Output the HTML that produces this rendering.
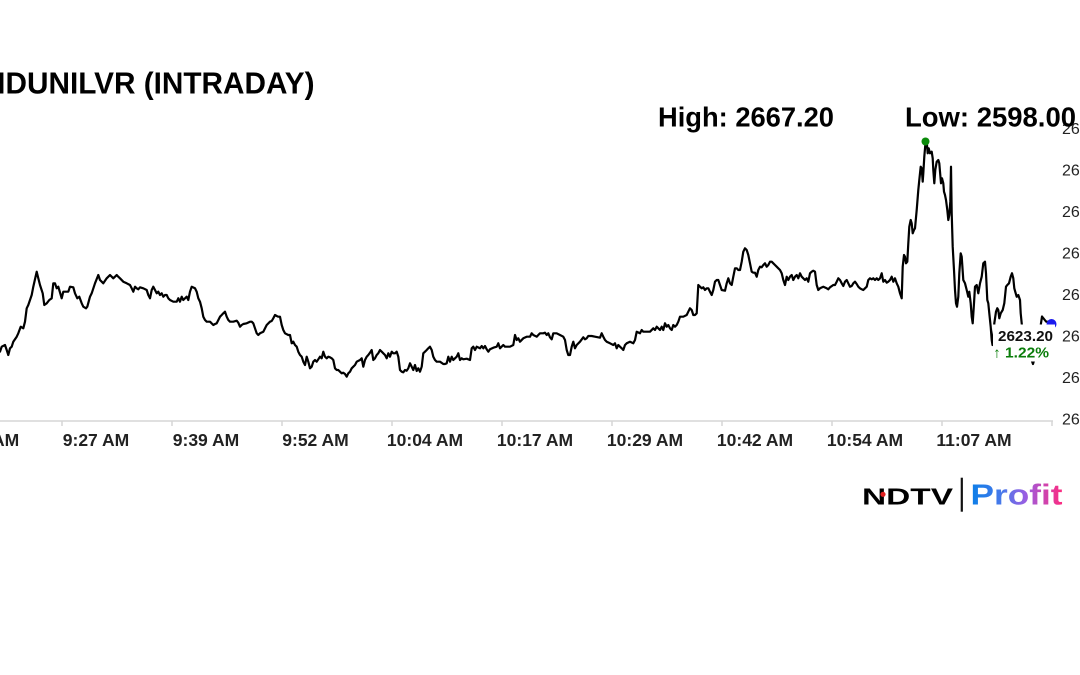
<!DOCTYPE html>
<html><head><meta charset="utf-8"><style>
html,body{margin:0;padding:0;background:#fff;}
svg{display:block;}
</style></head><body>
<svg width="1080" height="675" viewBox="0 0 1080 675" xmlns="http://www.w3.org/2000/svg">
<rect width="1080" height="675" fill="#fff"/>
<!-- Title -->
<text x="5.5" y="93.5" font-family="Liberation Sans, Arial, sans-serif" font-weight="bold" font-size="31" fill="#000" text-anchor="end">HIN</text>
<text x="5.5" y="93.5" font-family="Liberation Sans, Arial, sans-serif" font-weight="bold" font-size="31" fill="#000" textLength="309" lengthAdjust="spacingAndGlyphs">DUNILVR (INTRADAY)</text>
<!-- High / Low -->
<text x="658" y="126.5" font-family="Liberation Sans, Arial, sans-serif" font-weight="bold" font-size="28" fill="#000" textLength="176" lengthAdjust="spacingAndGlyphs">High: 2667.20</text>
<!-- y labels -->
<g font-family="Liberation Sans, Arial, sans-serif" font-size="16" fill="#222">
<text x="1062" y="134.2">2670</text>
<text x="1062" y="175.7">2660</text>
<text x="1062" y="217.2">2650</text>
<text x="1062" y="258.7">2640</text>
<text x="1062" y="300.2">2630</text>
<text x="1062" y="341.7">2620</text>
<text x="1062" y="383.2">2610</text>
<text x="1062" y="424.7">2600</text>
</g>
<text x="905" y="126.5" font-family="Liberation Sans, Arial, sans-serif" font-weight="bold" font-size="28" fill="#000" textLength="171" lengthAdjust="spacingAndGlyphs">Low: 2598.00</text>
<!-- axis -->
<line x1="0" y1="421" x2="1053" y2="421" stroke="#d6d6d6" stroke-width="1.5"/>
<g stroke="#d6d6d6" stroke-width="1.5">
<line x1="62" y1="421" x2="62" y2="426"/><line x1="172" y1="421" x2="172" y2="426"/><line x1="282" y1="421" x2="282" y2="426"/><line x1="392" y1="421" x2="392" y2="426"/><line x1="502" y1="421" x2="502" y2="426"/><line x1="612" y1="421" x2="612" y2="426"/><line x1="722" y1="421" x2="722" y2="426"/><line x1="832" y1="421" x2="832" y2="426"/><line x1="942" y1="421" x2="942" y2="426"/><line x1="1052" y1="421" x2="1052" y2="426"/>
</g>
<g font-family="Liberation Sans, Arial, sans-serif" font-weight="bold" font-size="17.5" fill="#222" text-anchor="middle">
<text x="-14" y="446">9:14 AM</text>
<text x="96" y="446">9:27 AM</text>
<text x="206" y="446">9:39 AM</text>
<text x="315.5" y="446">9:52 AM</text>
<text x="425" y="446">10:04 AM</text>
<text x="535" y="446">10:17 AM</text>
<text x="645" y="446">10:29 AM</text>
<text x="755" y="446">10:42 AM</text>
<text x="865" y="446">10:54 AM</text>
<text x="974" y="446">11:07 AM</text>
</g>
<!-- series -->
<polyline fill="none" stroke="#000" stroke-width="2.2" stroke-linejoin="round" points="-2,352 0,351.7 1.7,346.7 5,345 6.7,350 8.3,355 10,348.3 11.7,346.7 13.3,341.7 16.7,336.7 18.3,333.3 20.7,326.7 23.3,328.3 25,321.7 26.7,308.3 28.3,305 30,300 31.7,295 33.3,286.7 36.7,271.7 38.3,278.3 40,285 42.7,293.3 44.3,305 46.7,303.3 49.3,300 51.7,298.3 53.3,283.3 55,283.3 56.7,288.3 58.3,286.7 61.7,298.3 63.3,291.7 65,291.7 68.3,291.7 70,286.7 73.3,287.3 75,293.3 77.3,298.3 79.3,296.7 81.7,303.3 83.3,306.7 86,308.3 87.3,306.7 90,296.7 91.7,293.3 95,283.3 98.3,275 100,280 101.7,281.7 103.3,283.3 106.7,278.3 110,275 113.3,278.3 115,276.7 116.7,275 118.3,276.7 120,278.3 123.3,281.7 126.7,283.3 130,285 131.7,288.3 133.3,291.7 135,286.7 136.7,288.3 138.3,289.3 140,287.3 143.3,288.3 146.7,290 148.3,295 150,298.3 151.7,290 153.3,286.7 155,290 156.7,293.3 158.3,291.7 160,295 161.7,293.3 163.3,296.7 165,295 166.7,295 168.3,298.3 170,300 173.3,301.7 176.7,301.7 178.3,298.3 180,301.7 181.7,296.7 183.3,300 186.7,296.7 188.3,300 190,291.7 191.7,286.7 195,288.3 196.7,291.7 198.3,298.3 200,301.7 201.7,308.3 203.3,316.7 205,320 206.7,321.7 210,321.7 213.3,325 215,324 216.7,323.3 220,316.7 221.7,315 223.3,313.3 225,311.7 226.7,316.7 228.3,320 230,321.7 233.3,321.7 236.7,320.7 238.3,322.7 240,326.7 241.7,325 243.3,324 246.7,323.3 250,321.7 251.7,321.7 253.3,323.3 255,328.3 256.7,333.3 258.3,335 260,333.3 263.3,331.7 266.7,325 270,321.7 271.7,321 273.3,318.3 275,315 276.7,316 278.3,316.7 280,316.7 281.7,325 283.3,330 285,333.3 288.3,335 290,335 291.7,343.3 293.3,341.7 295,345 296.7,346.7 298.3,351.7 300,355 301.7,356.7 303.3,361.7 305,365 306.7,356.7 308.3,361.7 310,368.3 311.7,366.7 313.3,361.7 315,360 316.7,361.7 318.3,359.3 320,356.7 321.7,358.3 323.3,351.7 325,356.7 326.7,358.3 328.3,356.7 330,357.3 331.7,358.3 333.3,360 335,368.3 336.7,370 338.3,370 340,371.7 341.7,373.3 343.3,372.7 345,374 346.7,376.7 348.3,373.3 350,371.7 351.7,368.3 353.3,366.7 355,365 356.7,361.7 360,360 361.7,358.3 363.3,366.7 365,360 366.7,356.7 368.3,355 370,352.7 371.7,350 373.3,360 375,358.3 376.7,355 378.3,353.3 380,350 381.7,351.7 383.3,353.3 385,355 386.7,358.3 388.3,353.3 390,356.7 391.7,351.7 393.3,353.3 395,353.3 396.7,351.7 398.3,356.7 400,370 401.7,371.7 403.3,372.3 405,370 406.7,370.7 408.3,368.3 410,363.3 411.7,366.7 413.3,370 415,365 416.7,371 418.3,368.3 420,371.7 421.7,366.7 423.3,353.3 425,351.7 426.7,350 428.3,348.3 430,346.7 431.7,350 433.3,356.7 435,360 436.7,361.7 440,361.7 443.3,364 445,364 446.7,363.3 448.3,356.7 450,361.7 451.7,356.7 453.3,360 455,358.3 456.7,356.7 458.3,353.3 460,360 461.7,358.3 463.3,359.3 466.7,358.7 470,360 471.7,348.3 473.3,346.7 475,350 476.7,346.7 480,348.3 481.7,346 483.3,348.3 485,346 486.7,349.3 488.3,351.7 490,349.3 493.3,347.7 496.7,346.7 498.3,343.3 500,348.3 503.3,345 505,346.7 506.7,346.7 510,346.7 513.3,345 515,335 516.7,340 518.3,338.3 520,341.7 523.3,338.3 526.7,336.7 530,336.7 531.7,333.3 533.3,335 536.7,336.7 538.3,335 540,333.3 543.3,333.3 545,332.7 546.7,335 548.3,333.3 550,337.3 551.7,339.3 553.3,333.3 556.7,333.3 560,335 563.3,336.7 565,340 566.7,350 568.3,355 570,355 571.7,346.7 573.3,341.7 575,348.3 576.7,345 580,341.7 583.3,337.3 585,339.3 586.7,338.3 588.3,336 591.7,336 595,336.7 600,337.7 601.7,333.3 603.3,336.7 605,340 606.7,341.7 610,343.3 613.3,345 615,343.3 616.7,348.3 618.3,345 620,346.7 621.7,348.3 623.3,350 625,345 626.7,343.3 630,341.7 633.3,343.3 635,340 636.7,331.7 640,333.3 641.7,330 643.3,331.7 646.7,331.7 650,331.7 653.3,328.3 655,330 656.7,326.7 658.3,328.3 660,330 661.7,326.7 663.3,330 665,323.3 666.7,326.7 668.3,325 670,328.3 671.7,330 673.3,325 675,326.7 676.7,325 678.3,321.7 680,316.7 683.3,316.7 686.7,315 688.3,311.7 690,308.3 691.7,310 693.3,315 695,315 696.7,313.3 698.3,285 700,286.7 701.7,288.3 703.3,287.3 705,290 706.7,288.3 708.3,288.3 710,291.7 711.7,295 713.3,290 715,281.7 716.7,280 718.3,280 720,285 721.7,290 725,290.7 726.7,283.3 728.3,278.3 730,283.3 731.7,285 733.3,276.7 735,268.3 736.7,268.3 738.3,270 740,270 741.7,261.7 743.3,251.7 745,248.3 746.7,250 748.3,255 750,263.3 751.7,271.7 753.3,272.7 755,272.7 756.7,276.7 758.3,270 760,266.7 761.7,267.3 763.3,265 765,263.3 766.7,266.7 768.3,265 770,261.7 771.7,261.7 773.3,263.3 775,265 776.7,266.7 778.3,268.3 780,270 781.7,273.3 783.3,280 785,285 786.7,276.7 788.3,280 790,276.7 791.7,275 793.3,280 795,276.7 796.7,275 798.3,278.3 800,273.3 801.7,276.7 803.3,278.3 805,280 806.7,278.3 808.3,281.7 810,273.3 811.7,271.7 813.3,270.7 815,271.7 816.7,285 818.3,290 820,288.3 823.3,286.7 826.7,288.3 828.3,289.3 830,287.3 833.3,285 835,285 836.7,281.7 838.3,278.3 840,280 841.7,283.3 843.3,286 845,281.7 846.7,280 848.3,283.3 850,286.7 851.7,286 853.3,283.3 855,281.7 856.7,284 858.3,286.7 860,288.3 861.7,289.3 863.3,290 865,288.3 866.7,286.7 868.3,280 870,278.3 871.7,279.3 873.3,278.3 875,280 876.7,278.3 878.3,280 880,278.3 881.7,273.3 883.3,281.7 885,280 886.7,282.7 888.3,281.7 890,280 891.7,276.7 893.3,281.7 895,278.3 896.7,283.3 898.3,286.7 900,293.3 901.7,298.3 902.7,266.7 904,255 905,256.7 906,263.3 907.3,261.7 908.3,243.3 909.3,226.7 910.7,220 911.7,223.3 912.7,233.3 914,230 915,228.3 916.7,210 918.3,190 919.3,180 920.7,166.7 921.7,168.3 922.7,181.7 923.3,173.3 924.3,156.7 925.3,145 926.7,141.7 927.7,153.3 928.7,148.3 930,153.3 931.7,151.7 932.7,158.3 933.3,170 934.3,183.3 935.3,170 936.7,161.7 938.3,160 939.3,163.3 940,171.7 941,183.3 942,178.3 943.3,183.3 944,191.7 945,195 946,200 947.3,210 948.3,220 949.3,215 950.3,201.7 951,166.7 951.7,213.3 952.7,246.7 954,270 955,290 956,303.3 957,306.7 958.3,296.7 959.3,273.3 960.7,253.3 961.7,256.7 963.3,280 965,283.3 966.7,290 968.3,296.7 969.3,291.7 970.7,303.3 971.7,316.7 972.7,323.3 974,303.3 975,286.7 976.7,285 978.3,293.3 980,283.3 981.7,276.7 983.3,263.3 985,261.7 986,273.3 987.3,300 988.3,303.3 989.3,313.3 990.7,326.7 991.7,340 992.5,345 994,330 994.3,323.3 996,311.7 997.3,308.3 998.3,310 999.3,318.3 1000.7,313.3 1002.7,310 1004.3,303.3 1006,286.7 1007.3,285 1009,283.3 1010.7,276.7 1012,273.3 1013.3,278.3 1014.3,288.3 1015.7,293.3 1016.7,296.7 1018.3,295 1020,300 1020.7,313.3 1021.7,323.3 1023.3,336.7 1028,350 1033,364 1037,350 1040,330 1042,316.5 1046,321.5 1052,323"/>
<!-- high marker -->
<circle cx="925.5" cy="141.5" r="4" fill="#0a8a0a"/>
<!-- last marker -->
<circle cx="1051.5" cy="324" r="5" fill="#1a1aee"/>
<!-- price label box -->
<rect x="993" y="324.5" width="62" height="37" fill="#fff"/>
<text x="998" y="341" font-family="Liberation Sans, Arial, sans-serif" font-weight="bold" font-size="15" fill="#111" textLength="55" lengthAdjust="spacingAndGlyphs">2623.20</text>
<text x="993" y="357.5" font-family="Liberation Sans, DejaVu Sans, Arial, sans-serif" font-weight="bold" font-size="14.5" fill="#0a7d0a" textLength="56" lengthAdjust="spacingAndGlyphs">↑ 1.22%</text>
<!-- logo -->
<text x="862" y="504.3" font-family="Liberation Sans, Arial, sans-serif" font-weight="bold" font-size="23.5" fill="#000" textLength="91" lengthAdjust="spacingAndGlyphs">NDTV</text>
<circle cx="883" cy="494.3" r="2.6" fill="#e02020"/>
<rect x="960.7" y="477.7" width="2.2" height="34" fill="#111"/>
<defs>
<linearGradient id="pg" x1="970" y1="0" x2="1063" y2="0" gradientUnits="userSpaceOnUse">
<stop offset="0" stop-color="#0a7fe8"/>
<stop offset="0.35" stop-color="#4a78ea"/>
<stop offset="0.6" stop-color="#9a5ee2"/>
<stop offset="1" stop-color="#ff2a7e"/>
</linearGradient>
</defs>
<text x="970.5" y="504.3" font-family="Liberation Sans, Arial, sans-serif" font-weight="bold" font-size="29" fill="url(#pg)" textLength="92" lengthAdjust="spacingAndGlyphs">Profit</text>
</svg>
</body></html>
